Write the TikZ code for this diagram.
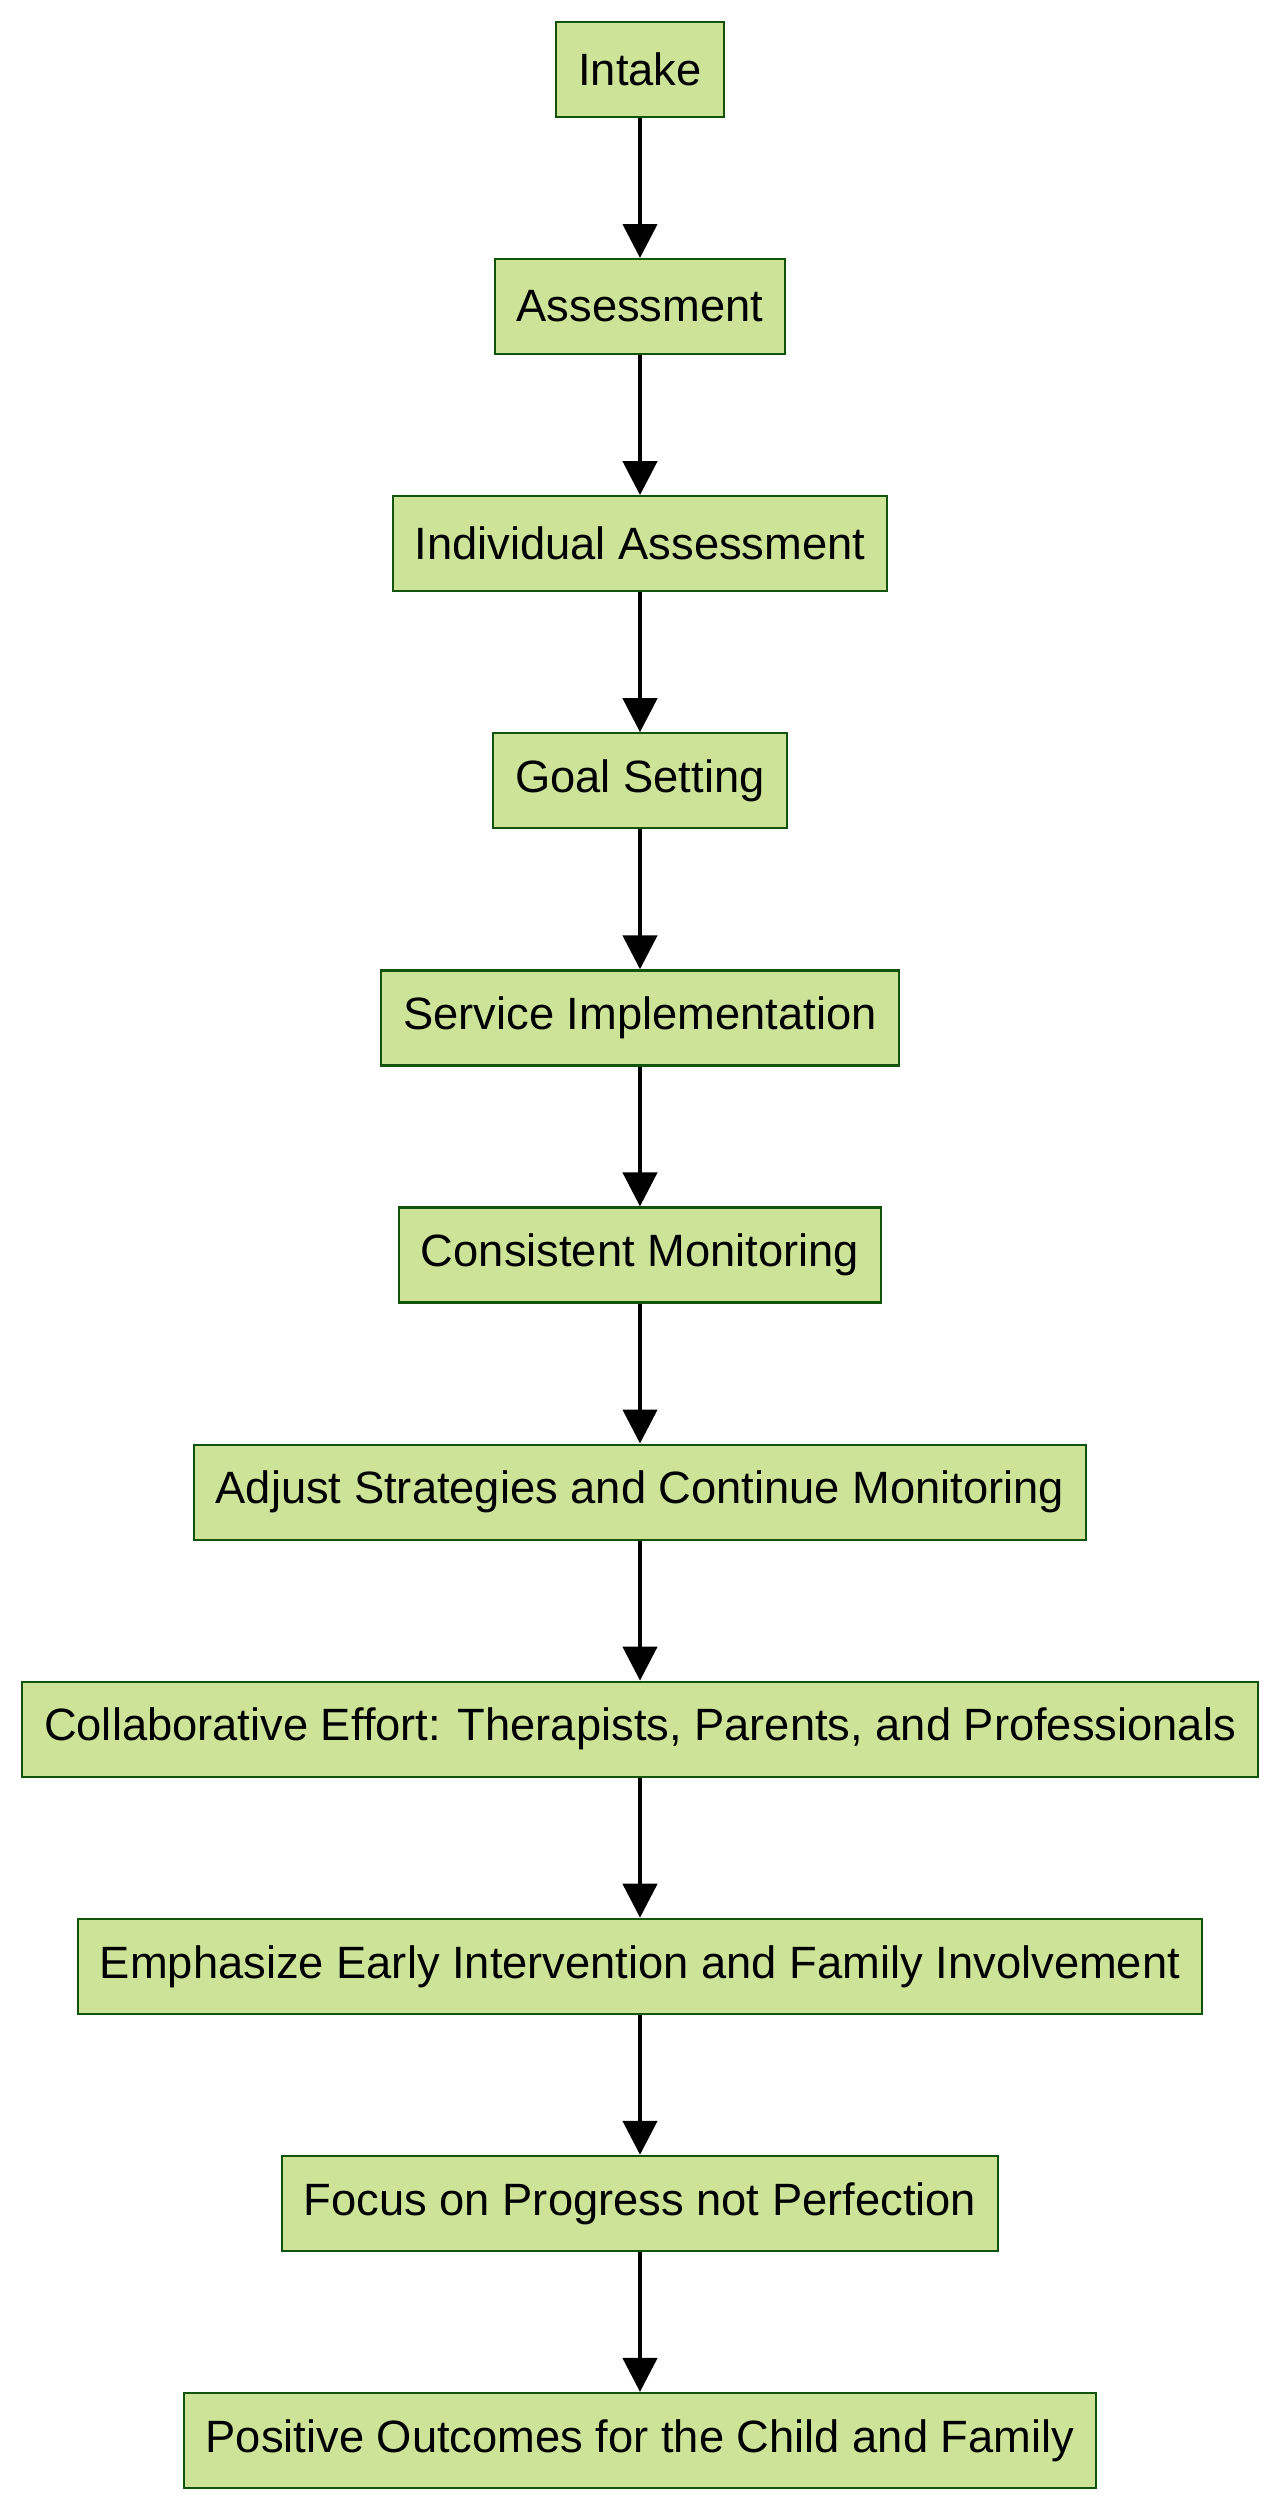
\documentclass[tikz,border=0pt]{standalone}
\usepackage{fontspec}
\setmainfont{Liberation Sans}
\usetikzlibrary{arrows.meta}
\definecolor{boxfill}{HTML}{CDE498}
\definecolor{boxline}{HTML}{13540C}
\tikzset{
  stepbox/.style={draw=boxline, fill=boxfill, line width=2.2pt, minimum height=95pt,
    inner xsep=22pt, inner ysep=0pt, font=\fontsize{45.3}{54}\selectfont, text=black, anchor=center},
  flow/.style={line width=4.5pt, draw=black, -{Triangle[length=34pt,width=34pt]}, shorten >=0pt}
}
\begin{document}
\begin{tikzpicture}[x=1pt,y=-1pt]
\useasboundingbox (0,0) rectangle (1280,2511);
\node[stepbox] (n1) at (640,69.5) {Intake};
\node[stepbox] (n2) at (640,306.6) {Assessment};
\node[stepbox] (n3) at (640,543.7) {Individual Assessment};
\node[stepbox] (n4) at (640,780.8) {Goal Setting};
\node[stepbox] (n5) at (640,1017.9) {Service Implementation};
\node[stepbox] (n6) at (640,1255.0) {Consistent Monitoring};
\node[stepbox] (n7) at (640,1492.1) {Adjust Strategies and Continue Monitoring};
\node[stepbox] (n8) at (640,1729.2) {Collaborative Effort: Therapists, Parents, and Professionals};
\node[stepbox] (n9) at (640,1966.3) {Emphasize Early Intervention and Family Involvement};
\node[stepbox] (n10) at (640,2203.4) {Focus on Progress not Perfection};
\node[stepbox] (n11) at (640,2440.5) {Positive Outcomes for the Child and Family};
\foreach \a/\b in {n1/n2,n2/n3,n3/n4,n4/n5,n5/n6,n6/n7,n7/n8,n8/n9,n9/n10,n10/n11}
  \draw[flow] (\a.south) -- (\b.north);
\end{tikzpicture}
\end{document}
